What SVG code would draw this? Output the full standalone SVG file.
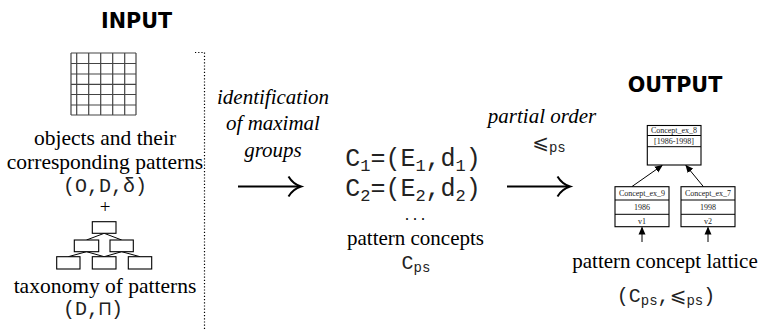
<svg xmlns="http://www.w3.org/2000/svg" width="759" height="329" viewBox="0 0 759 329">
<style>
.hd{font-family:"DejaVu Sans",sans-serif;font-weight:bold;font-size:20.7px;fill:#000;text-anchor:middle}
.rm{font-family:"Liberation Serif","Times New Roman",serif;font-size:21px;fill:#000;text-anchor:middle}
.it{font-family:"Liberation Serif","Times New Roman",serif;font-style:italic;font-size:21px;fill:#000;text-anchor:middle}
.mo{font-family:"Liberation Mono","DejaVu Sans Mono",monospace;font-size:20px;fill:#222;text-anchor:middle}
.sm{font-family:"Liberation Serif","Times New Roman",serif;font-size:8px;fill:#222;text-anchor:middle}
.box{fill:#fff;stroke:#000;stroke-width:1.1}
.ln{stroke:#000;stroke-width:1;fill:none}
.grid{stroke:#444;stroke-width:1.2;fill:none}
.arr{stroke:#000;stroke-width:2;fill:none}
</style>
<defs>
<marker id="ah" markerWidth="8" markerHeight="8" refX="7" refY="4" orient="auto" markerUnits="userSpaceOnUse">
<path d="M0,0.5 L8,4 L0,7.5 Z" fill="#000"/>
</marker>
</defs>

<g id="input">
<text class="hd" x="136.5" y="28">INPUT</text>
</g>

<g id="objects">
<path class="grid" d="M71,53 H136 M71,63.5 H136 M71,74 H136 M71,84.3 H136 M71,94.5 H136 M71,105 H136 M71,115 H136 M71,53 V115 M76.7,53 V115 M88.7,53 V115 M100.7,53 V115 M112.7,53 V115 M124.7,53 V115 M136,53 V115"/>
<text class="rm" x="105" y="145" style="font-size:21.5px">objects and their</text>
<text class="rm" x="105" y="168.5" style="font-size:21.5px">corresponding patterns</text>
<text class="mo" x="105" y="192">(O,D,δ)</text>
<text class="rm" x="105" y="213" style="font-size:19px">+</text>
</g>

<g id="taxonomy">
<path class="ln" d="M104.2,233.3 L86.5,240 M104.2,233.3 L121.7,240 M86.5,251.7 L68.3,256.7 M86.5,251.7 L104.2,256.7 M121.7,251.7 L104.2,256.7 M121.7,251.7 L140,256.7"/>
<rect class="box" x="92.3" y="221.7" width="23.7" height="11.6"/>
<rect class="box" x="74.3" y="240" width="24.4" height="11.7"/>
<rect class="box" x="110" y="240" width="23.3" height="11.7"/>
<rect class="box" x="56.7" y="256.7" width="23.3" height="12.3"/>
<rect class="box" x="92.3" y="256.7" width="23.7" height="12.3"/>
<rect class="box" x="128.3" y="256.7" width="23.4" height="12.3"/>
<text class="rm" x="105" y="293" style="font-size:21.5px">taxonomy of patterns</text>
<text class="mo" x="93" y="315">(D,⊓)</text>
</g>

<g id="separator">
<path d="M195,52.5 H204.5 V329" stroke="#000" stroke-width="1.2" stroke-dasharray="1.2,2" fill="none"/>
</g>

<g id="step1">
<text class="it" x="273" y="104">identification</text>
<text class="it" x="273" y="130">of maximal</text>
<text class="it" x="273" y="157">groups</text>
</g>

<g id="concepts">
<text class="mo" x="413" y="166" style="font-size:25px">C<tspan font-size="17" dy="5">1</tspan><tspan dy="-5">=(E</tspan><tspan font-size="17" dy="5">1</tspan><tspan dy="-5">,d</tspan><tspan font-size="17" dy="5">1</tspan><tspan dy="-5">)</tspan></text>
<text class="mo" x="413" y="196" style="font-size:25px">C<tspan font-size="17" dy="5">2</tspan><tspan dy="-5">=(E</tspan><tspan font-size="17" dy="5">2</tspan><tspan dy="-5">,d</tspan><tspan font-size="17" dy="5">2</tspan><tspan dy="-5">)</tspan></text>
<text class="rm" x="415" y="220" style="font-size:16px">. . .</text>
<text class="rm" x="415.5" y="245">pattern concepts</text>
<text class="mo" x="416" y="269">C<tspan font-size="14" dy="3">ps</tspan></text>
</g>

<g id="step2">
<text class="it" x="542" y="123">partial order</text>
<text class="mo" x="549" y="149"><tspan font-family="DejaVu Sans,sans-serif" font-size="20">⩽</tspan><tspan font-size="14" dy="3">ps</tspan></text>
</g>

<g id="output">
<text class="hd" x="675" y="92">OUTPUT</text>
</g>

<g id="lattice">
<g id="concept8">
<rect class="box" x="647.3" y="125.5" width="53.7" height="39.5"/>
<path class="ln" d="M647.3,135.5 H701 M647.3,146.7 H701"/>
<text class="sm" x="674" y="133.3">Concept_ex_8</text>
<text class="sm" x="674" y="144">[1986-1998]</text>
</g>
<g id="concept9">
<rect class="box" x="615" y="186.7" width="54" height="40"/>
<path class="ln" d="M615,200 H669 M615,214.3 H669"/>
<text class="sm" x="642" y="196">Concept_ex_9</text>
<text class="sm" x="642" y="210">1986</text>
<text class="sm" x="642" y="223.5">v1</text>
</g>
<g id="concept7">
<rect class="box" x="681" y="186.7" width="54" height="40"/>
<path class="ln" d="M681,200 H735 M681,214.3 H735"/>
<text class="sm" x="708" y="196">Concept_ex_7</text>
<text class="sm" x="708" y="210">1998</text>
<text class="sm" x="708" y="223.5">v2</text>
</g>
<text class="rm" x="665" y="268">pattern concept lattice</text>
<text class="mo" x="666" y="302">(C<tspan font-size="14" dy="3">ps</tspan><tspan dy="-3">,</tspan><tspan font-family="DejaVu Sans,sans-serif">⩽</tspan><tspan font-size="14" dy="3">ps</tspan><tspan dy="-3">)</tspan></text>
</g>

<g id="connectors">
<path class="arr" d="M238,186.5 H300"/>
<path class="arr" d="M288.5,176.5 Q293,184 301,186.5 Q293,189 288.5,196.5"/>
<path class="arr" d="M507,186.5 H569"/>
<path class="arr" d="M557.5,176.5 Q562,184 570,186.5 Q562,189 557.5,196.5"/>
<path class="ln" d="M632,186.5 L662,165.5" marker-end="url(#ah)"/>
<path class="ln" d="M703.3,186.5 L686,165.5" marker-end="url(#ah)"/>
<path class="ln" d="M642,242 V227.5" marker-end="url(#ah)"/>
<path class="ln" d="M708,242 V227.5" marker-end="url(#ah)"/>
</g>
</svg>
